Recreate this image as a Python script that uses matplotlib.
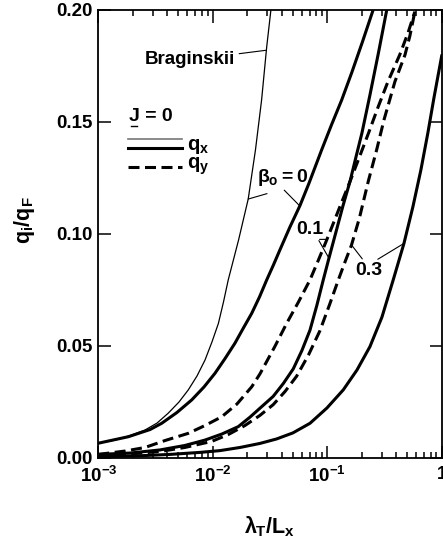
import numpy as np
import matplotlib
matplotlib.use('Agg')
import matplotlib.pyplot as plt
from matplotlib.ticker import FixedLocator, FuncFormatter, NullFormatter

# curves (x = lambda_T / L_x, y = q_i / q_F)
brag_x = [0.001, 0.0014, 0.00189, 0.00256, 0.00326, 0.00408, 0.00507, 0.00611, 0.00728, 0.00855,
          0.00984, 0.0112, 0.0124, 0.01365, 0.0168, 0.0204, 0.0236, 0.0267, 0.0296, 0.0322]
brag_y = [0.0066, 0.0080, 0.0100, 0.0125, 0.0156, 0.0200, 0.0250, 0.0304, 0.0366, 0.0437,
          0.0518, 0.0601, 0.0696, 0.0795, 0.0973, 0.1156, 0.1375, 0.1598, 0.1836, 0.200]

b0_x = [0.001, 0.00183, 0.00283, 0.00358, 0.00486, 0.00654, 0.00838, 0.01045, 0.0128, 0.0156,
        0.0185, 0.0219, 0.0256, 0.0296, 0.0339, 0.0386, 0.0472, 0.0578, 0.0692, 0.0893,
        0.1089, 0.1337, 0.1644, 0.2028, 0.249]
b0_y = [0.0066, 0.0095, 0.0127, 0.0155, 0.0203, 0.0259, 0.0317, 0.0378, 0.0444, 0.0512,
        0.0580, 0.0646, 0.0719, 0.0795, 0.0862, 0.0929, 0.1031, 0.1127, 0.1226, 0.1375,
        0.1487, 0.1598, 0.1723, 0.1857, 0.1993]

b01_qx_x = [0.001, 0.00189, 0.00346, 0.00571, 0.00855, 0.0120, 0.0167, 0.0211, 0.0258, 0.0337,
            0.0414, 0.0505, 0.0601, 0.0707, 0.0813, 0.0923, 0.1035, 0.1192, 0.1371, 0.158,
            0.1783, 0.2010, 0.236, 0.280, 0.329]
b01_qx_y = [0.0016, 0.0022, 0.0036, 0.0056, 0.0080, 0.0107, 0.0140, 0.0182, 0.0222, 0.0275,
            0.0333, 0.0398, 0.0480, 0.0571, 0.0683, 0.0795, 0.0892, 0.1009, 0.1125, 0.1234,
            0.1344, 0.1451, 0.1620, 0.1808, 0.1993]

b01_qy_x = [0.001, 0.00171, 0.00256, 0.00383, 0.0061, 0.00855, 0.01197, 0.01626, 0.0219, 0.0258,
            0.0348, 0.0442, 0.0560, 0.0707, 0.0838, 0.0989, 0.1133, 0.129, 0.158, 0.1932,
            0.2312, 0.2773, 0.339, 0.430, 0.507, 0.583]
b01_qy_y = [0.0016, 0.0031, 0.0047, 0.0078, 0.0110, 0.0145, 0.0184, 0.0241, 0.0318, 0.0375,
            0.0497, 0.0601, 0.0696, 0.0795, 0.0884, 0.0973, 0.1049, 0.1122, 0.1234, 0.1350,
            0.1455, 0.1565, 0.168, 0.180, 0.1897, 0.1993]

b03_qx_x = [0.001, 0.00231, 0.00423, 0.00773, 0.01156, 0.0173, 0.0258, 0.0361, 0.0501, 0.0707,
            0.0993, 0.138, 0.182, 0.236, 0.3006, 0.377, 0.468, 0.560, 0.658, 0.757,
            0.855, 1.0]
b03_qx_y = [0.0006, 0.0010, 0.0016, 0.0025, 0.0033, 0.0047, 0.0065, 0.0085, 0.0112, 0.0155,
            0.0223, 0.0304, 0.0393, 0.0497, 0.0629, 0.0795, 0.0958, 0.1121, 0.1286, 0.1451,
            0.1607, 0.1795]

b03_qy_x = [0.001, 0.00189, 0.00346, 0.00571, 0.00977, 0.01358, 0.0191, 0.0258, 0.0337, 0.0428,
            0.054, 0.0686, 0.0863, 0.1045, 0.125, 0.1429, 0.163, 0.191, 0.228, 0.27,
            0.313, 0.390, 0.478, 0.527, 0.583]
b03_qy_y = [0.0011, 0.0018, 0.0029, 0.0047, 0.0074, 0.0104, 0.0145, 0.0190, 0.0238, 0.0297,
            0.0365, 0.0460, 0.0568, 0.0683, 0.0795, 0.0875, 0.0951, 0.1071, 0.1234, 0.1375,
            0.1509, 0.168, 0.180, 0.1884, 0.1993]

x_major = [1e-3, 1e-2, 1e-1, 1.0]
y_major = [0.0, 0.05, 0.10, 0.15, 0.20]

plt.rcParams['font.family'] = ['Liberation Sans', 'DejaVu Sans']
plt.rcParams['font.weight'] = 'bold'
plt.rcParams['mathtext.fontset'] = 'custom'
plt.rcParams['mathtext.rm'] = 'Liberation Sans:bold'
plt.rcParams['mathtext.it'] = 'Liberation Sans:bold'
plt.rcParams['mathtext.bf'] = 'Liberation Sans:bold'
plt.rcParams['mathtext.sf'] = 'Liberation Sans:bold'

W, H = 443, 541
fig = plt.figure(figsize=(W / 100, H / 100), dpi=100)
ax = fig.add_axes([98.3 / W, 1 - 458 / H, 343.4 / W, 448 / H])

thick = 2.2
dash = (0, (3.6, 1.8))
ax.plot(brag_x, brag_y, color='black', lw=0.9)
ax.plot(b0_x, b0_y, color='black', lw=thick)
ax.plot(b01_qx_x, b01_qx_y, color='black', lw=thick)
ax.plot(b01_qy_x, b01_qy_y, color='black', lw=thick, linestyle=dash)
ax.plot(b03_qx_x, b03_qx_y, color='black', lw=thick)
ax.plot(b03_qy_x, b03_qy_y, color='black', lw=thick, linestyle=dash)

ax.set_xscale('log')
ax.set_xlim(1e-3, 1.0)
ax.set_ylim(0, 0.20)

ax.xaxis.set_major_locator(FixedLocator(x_major))
minors = [m * d for d in x_major[:-1] for m in range(2, 10)]
ax.xaxis.set_minor_locator(FixedLocator(minors))
ax.xaxis.set_minor_formatter(NullFormatter())


def fmt_x(v, pos):
    e = int(round(np.log10(v)))
    return '1' if e == 0 else r'$10^{%d}$' % e


ax.xaxis.set_major_formatter(FuncFormatter(fmt_x))
ax.yaxis.set_major_locator(FixedLocator(y_major))
ax.yaxis.set_major_formatter(FuncFormatter(lambda v, p: '%.2f' % v))

ax.tick_params(which='both', direction='in', top=True, right=True, width=1.1)
ax.tick_params(which='major', length=9, labelsize=13.5)
ax.tick_params(which='minor', length=4.5)
ax.tick_params(axis='x', which='major', pad=6)
ax.tick_params(axis='y', which='major', pad=4)
for s in ax.spines.values():
    s.set_linewidth(1.3)

ax.set_xlabel(r'$\lambda_T/L_x$', fontsize=15.5)
ax.set_ylabel(r'$q_i/q_F$', fontsize=15.5)
ax.xaxis.set_label_coords(0.5, -0.125)
ax.yaxis.set_label_coords(-0.178, 0.53)

# curve labels with leader lines
lead = dict(arrowstyle='-', lw=0.8, color='black', shrinkA=1, shrinkB=0)
ax.annotate('Braginskii', xy=(0.0290, 0.182), xytext=(0.0063, 0.1777),
            ha='center', va='center', fontsize=13.5, arrowprops=lead)
ax.text(0.041, 0.125, r'$\beta_o = 0$', ha='center', va='center', fontsize=14)
ax.annotate('', xy=(0.0204, 0.1156), xytext=(0.0306, 0.1182), arrowprops=lead)
ax.annotate('', xy=(0.0569, 0.1128), xytext=(0.0413, 0.120), arrowprops=lead)
ax.text(0.0707, 0.1018, '0.1', ha='center', va='center', fontsize=14)
ax.annotate('', xy=(0.0989, 0.0976), xytext=(0.0834, 0.0976), arrowprops=lead)
ax.annotate('', xy=(0.1035, 0.0892), xytext=(0.0834, 0.0976), arrowprops=lead)
ax.text(0.231, 0.0839, '0.3', ha='center', va='center', fontsize=14)
ax.annotate('', xy=(0.163, 0.0951), xytext=(0.206, 0.0884), arrowprops=lead)
ax.annotate('', xy=(0.468, 0.0958), xytext=(0.27, 0.0884), arrowprops=lead)

# hand-drawn style key (axes fraction)
tr = ax.transAxes
ax.text(0.090, 0.762, 'J = 0', transform=tr, ha='left', va='center', fontsize=14)
ax.plot([0.094, 0.114], [0.740, 0.740], transform=tr, color='black', lw=1.0)
ax.plot([0.087, 0.243], [0.711, 0.711], transform=tr, color='#777777', lw=1.2)
ax.plot([0.087, 0.243], [0.693, 0.693], transform=tr, color='black', lw=thick)
ax.plot([0.087, 0.243], [0.650, 0.650], transform=tr, color='black', lw=thick,
        linestyle=dash)
ax.text(0.257, 0.688, r'$q_x$', transform=tr, ha='left', va='baseline', fontsize=14.5)
ax.text(0.257, 0.645, r'$q_y$', transform=tr, ha='left', va='baseline', fontsize=14.5)

fig.savefig('out.png', dpi=100)
